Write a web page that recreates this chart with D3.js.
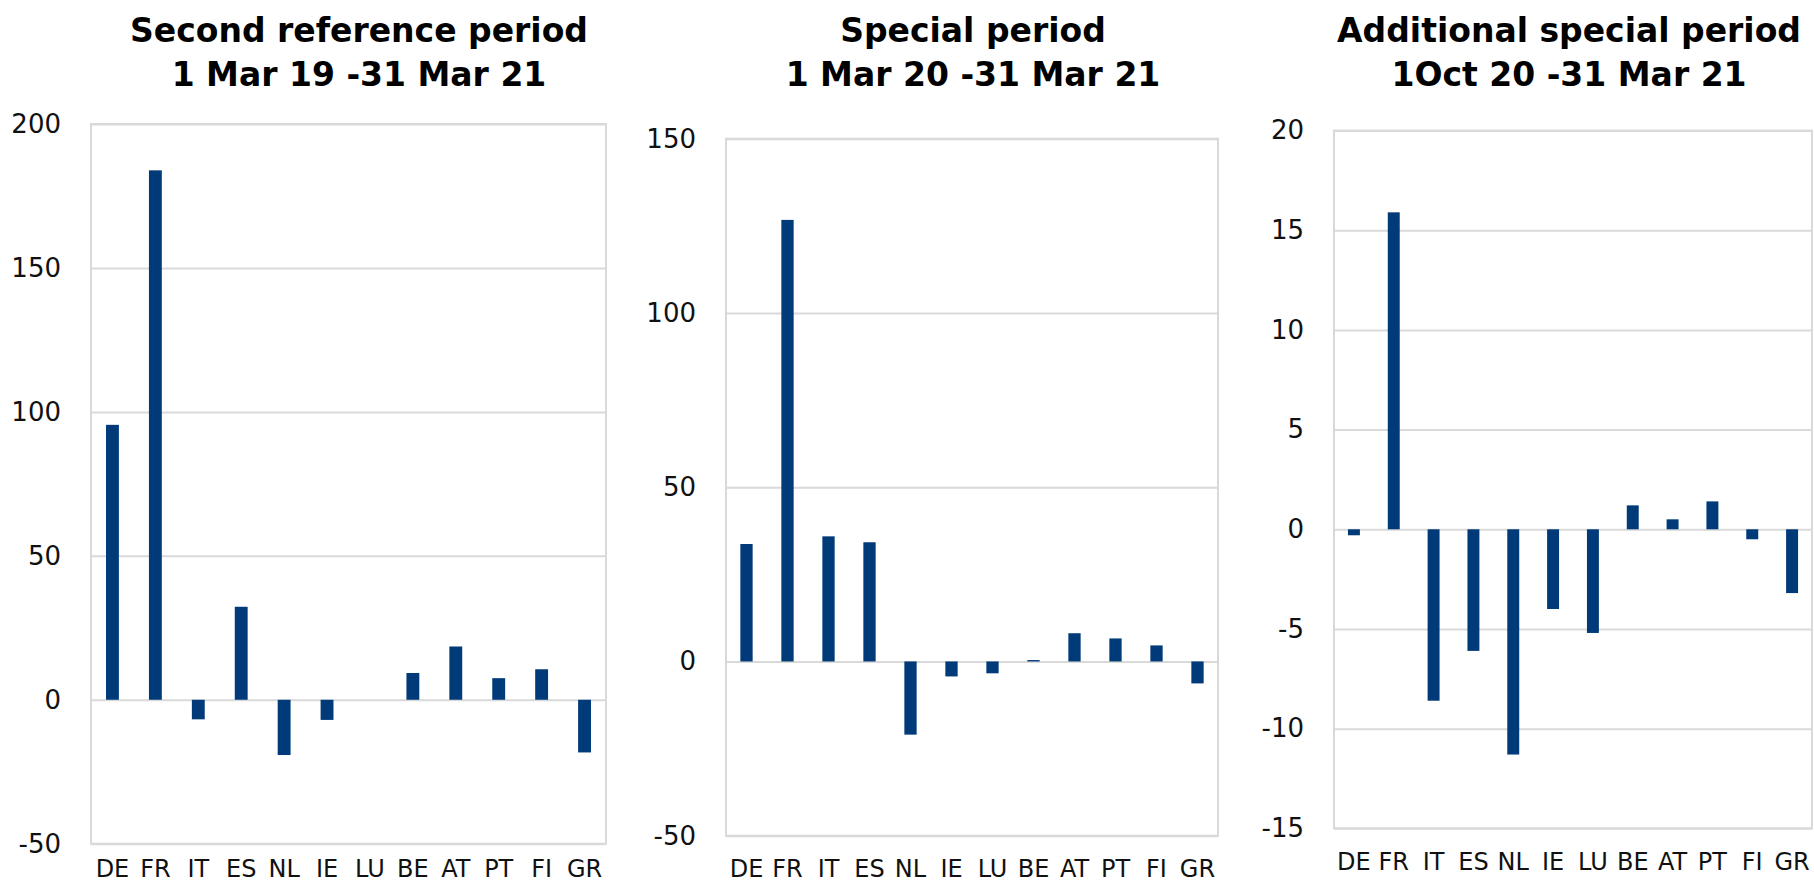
<!DOCTYPE html>
<html>
<head>
<meta charset="utf-8">
<script src="https://cdn.jsdelivr.net/npm/d3@7"></script>
<style>
  html, body { margin: 0; padding: 0; background: #fff; }
  svg { display: block; }
</style>
</head>
<body>
<svg id="chart" width="1814" height="883"></svg>
<script>
// Country codes shared by all three panels
const countries = ["DE", "FR", "IT", "ES", "NL", "IE", "LU", "BE", "AT", "PT", "FI", "GR"];

// Panel 1: second reference period, 1 Mar 19 - 31 Mar 21
const secondReferenceTitle = ["Second reference period", "1 Mar 19 -31 Mar 21"];
const secondReferenceValues = [95.5, 183.9, -6.8, 32.3, -19.2, -7.0, 0, 9.3, 18.5, 7.5, 10.6, -18.3];
const secondReferenceTicks = [-50, 0, 50, 100, 150, 200];

// Panel 2: special period, 1 Mar 20 - 31 Mar 21
const specialTitle = ["Special period", "1 Mar 20 -31 Mar 21"];
const specialValues = [33.7, 126.7, 35.9, 34.2, -21.0, -4.3, -3.4, 0.4, 8.1, 6.6, 4.6, -6.3];
const specialTicks = [-50, 0, 50, 100, 150];

// Panel 3: additional special period, 1 Oct 20 - 31 Mar 21
const additionalTitle = ["Additional special period", "1Oct 20 -31 Mar 21"];
const additionalValues = [-0.3, 15.9, -8.6, -6.1, -11.3, -4.0, -5.2, 1.2, 0.5, 1.4, -0.5, -3.2];
const additionalTicks = [-15, -10, -5, 0, 5, 10, 15, 20];

// Panel geometry (plot rectangles in page pixels)
const panels = [
  { title: secondReferenceTitle, values: secondReferenceValues, ticks: secondReferenceTicks,
    x0: 91, x1: 606, y0: 124, y1: 843.7, titleX: 359 },
  { title: specialTitle, values: specialValues, ticks: specialTicks,
    x0: 726, x1: 1218, y0: 138.7, y1: 835.7, titleX: 973 },
  { title: additionalTitle, values: additionalValues, ticks: additionalTicks,
    x0: 1334, x1: 1812, y0: 130.6, y1: 828.3, titleX: 1569 }
];

const barColor = "#013a79";
const gridColor = "#d9d9d9";
const textFont = "'DejaVu Sans', sans-serif";
const pageHeight = 883;
const labelSize = 24;

const svg = d3.select("#chart");

panels.forEach(p => {
  const g = svg.append("g");
  const w = p.x1 - p.x0;
  const h = p.y1 - p.y0;

  const x = d3.scaleBand()
    .domain(countries)
    .range([p.x0, p.x1])
    .paddingInner(0.7)
    .paddingOuter(0.35);

  const y = d3.scaleLinear()
    .domain(d3.extent(p.ticks))
    .range([p.y1, p.y0]);

  // Horizontal gridlines
  const grid = g.append("g")
    .attr("transform", `translate(${p.x0},0)`)
    .call(d3.axisLeft(y).tickValues(p.ticks).tickSize(-w).tickFormat(""));
  grid.select(".domain").remove();
  grid.selectAll(".tick line").attr("stroke", gridColor).attr("stroke-width", 2);

  // Plot frame
  g.append("rect")
    .attr("x", p.x0).attr("y", p.y0)
    .attr("width", w).attr("height", h)
    .attr("fill", "none")
    .attr("stroke", gridColor)
    .attr("stroke-width", 2);

  // Bars
  g.append("g").selectAll("rect")
    .data(p.values.map((v, i) => ({ c: countries[i], v })))
    .join("rect")
    .attr("x", d => x(d.c))
    .attr("width", x.bandwidth())
    .attr("y", d => y(Math.max(0, d.v)))
    .attr("height", d => Math.abs(y(d.v) - y(0)))
    .attr("fill", barColor);

  // Value axis labels
  const yAxis = g.append("g")
    .attr("transform", `translate(${p.x0},0)`)
    .call(d3.axisLeft(y).tickValues(p.ticks).tickSize(0).tickPadding(30).tickFormat(d => String(d)));
  yAxis.select(".domain").remove();
  yAxis.selectAll("text")
    .attr("font-family", textFont)
    .attr("font-size", 26)
    .attr("fill", "#111");

  // Category labels, kept inside the page at the bottom edge
  const baseline = Math.min(p.y1 + 42, pageHeight - 6);
  const xAxis = g.append("g")
    .attr("transform", `translate(0,${baseline})`)
    .call(d3.axisBottom(x).tickSize(0).tickPadding(0));
  xAxis.select(".domain").remove();
  xAxis.selectAll("text")
    .attr("dy", 0)
    .attr("font-family", textFont)
    .attr("font-size", labelSize)
    .attr("fill", "#111");

  // Two-line bold title
  const t = g.append("text")
    .attr("text-anchor", "middle")
    .attr("font-family", textFont)
    .attr("font-weight", "bold")
    .attr("font-size", 33)
    .attr("fill", "#000");
  p.title.forEach((line, i) => {
    t.append("tspan")
      .attr("x", p.titleX)
      .attr("y", 42 + i * 44)
      .text(line);
  });
});
</script>
</body>
</html>
